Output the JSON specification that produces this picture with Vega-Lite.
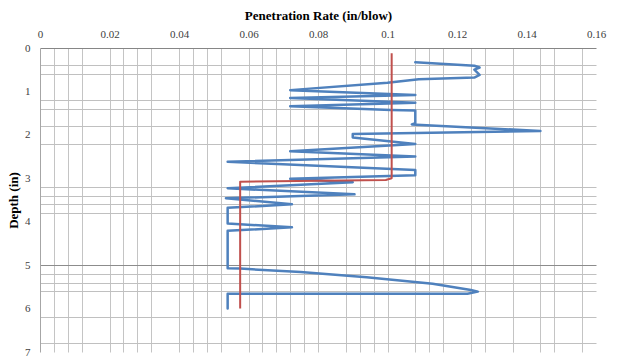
{
  "$schema": "https://vega.github.io/schema/vega-lite/v6.json",
  "width": 556,
  "height": 304,
  "autosize": {"type": "none"},
  "padding": {"left": 40, "top": 48, "right": 25, "bottom": 8},
  "background": "white",
  "config": {"view": {"stroke": null}, "font": "Liberation Serif"},
  "data": {
    "values": [
      {"series": "Measured", "order": 1, "rate": 0.108, "depth": 0.33},
      {"series": "Measured", "order": 2, "rate": 0.125, "depth": 0.41},
      {"series": "Measured", "order": 3, "rate": 0.1265, "depth": 0.45},
      {"series": "Measured", "order": 4, "rate": 0.125, "depth": 0.5},
      {"series": "Measured", "order": 5, "rate": 0.1265, "depth": 0.62},
      {"series": "Measured", "order": 6, "rate": 0.125, "depth": 0.68},
      {"series": "Measured", "order": 7, "rate": 0.109, "depth": 0.72},
      {"series": "Measured", "order": 8, "rate": 0.1, "depth": 0.8},
      {"series": "Measured", "order": 9, "rate": 0.072, "depth": 0.97},
      {"series": "Measured", "order": 10, "rate": 0.108, "depth": 1.08},
      {"series": "Measured", "order": 11, "rate": 0.072, "depth": 1.15},
      {"series": "Measured", "order": 12, "rate": 0.108, "depth": 1.26},
      {"series": "Measured", "order": 13, "rate": 0.072, "depth": 1.34},
      {"series": "Measured", "order": 14, "rate": 0.101, "depth": 1.43},
      {"series": "Measured", "order": 15, "rate": 0.108, "depth": 1.44},
      {"series": "Measured", "order": 16, "rate": 0.108, "depth": 1.73},
      {"series": "Measured", "order": 17, "rate": 0.107, "depth": 1.76},
      {"series": "Measured", "order": 18, "rate": 0.144, "depth": 1.91},
      {"series": "Measured", "order": 19, "rate": 0.09, "depth": 1.98},
      {"series": "Measured", "order": 20, "rate": 0.09, "depth": 2.06},
      {"series": "Measured", "order": 21, "rate": 0.108, "depth": 2.21},
      {"series": "Measured", "order": 22, "rate": 0.072, "depth": 2.38},
      {"series": "Measured", "order": 23, "rate": 0.108, "depth": 2.5},
      {"series": "Measured", "order": 24, "rate": 0.054, "depth": 2.62},
      {"series": "Measured", "order": 25, "rate": 0.108, "depth": 2.81},
      {"series": "Measured", "order": 26, "rate": 0.108, "depth": 2.93},
      {"series": "Measured", "order": 27, "rate": 0.072, "depth": 3.01},
      {"series": "Measured", "order": 28, "rate": 0.09, "depth": 3.09},
      {"series": "Measured", "order": 29, "rate": 0.054, "depth": 3.23},
      {"series": "Measured", "order": 30, "rate": 0.0905, "depth": 3.37},
      {"series": "Measured", "order": 31, "rate": 0.0535, "depth": 3.46},
      {"series": "Measured", "order": 32, "rate": 0.0725, "depth": 3.6},
      {"series": "Measured", "order": 33, "rate": 0.054, "depth": 3.68},
      {"series": "Measured", "order": 34, "rate": 0.054, "depth": 4.04},
      {"series": "Measured", "order": 35, "rate": 0.0725, "depth": 4.13},
      {"series": "Measured", "order": 36, "rate": 0.054, "depth": 4.21},
      {"series": "Measured", "order": 37, "rate": 0.054, "depth": 5.07},
      {"series": "Measured", "order": 38, "rate": 0.0576, "depth": 5.08},
      {"series": "Measured", "order": 39, "rate": 0.075, "depth": 5.16},
      {"series": "Measured", "order": 40, "rate": 0.094, "depth": 5.28},
      {"series": "Measured", "order": 41, "rate": 0.113, "depth": 5.43},
      {"series": "Measured", "order": 42, "rate": 0.124, "depth": 5.57},
      {"series": "Measured", "order": 43, "rate": 0.126, "depth": 5.61},
      {"series": "Measured", "order": 44, "rate": 0.123, "depth": 5.66},
      {"series": "Measured", "order": 45, "rate": 0.054, "depth": 5.66},
      {"series": "Measured", "order": 46, "rate": 0.054, "depth": 6.0},
      {"series": "Average", "order": 1, "rate": 0.1012, "depth": 0.12},
      {"series": "Average", "order": 2, "rate": 0.1012, "depth": 3.0},
      {"series": "Average", "order": 3, "rate": 0.0995, "depth": 3.04},
      {"series": "Average", "order": 4, "rate": 0.0576, "depth": 3.08},
      {"series": "Average", "order": 5, "rate": 0.0576, "depth": 6.0}
    ]
  },
  "encoding": {
    "x": {
      "field": "rate",
      "type": "quantitative",
      "scale": {"domain": [0, 0.16], "nice": false, "zero": false},
      "axis": {
        "orient": "top",
        "title": "Penetration Rate (in/blow)",
        "titleFont": "Liberation Serif",
        "titleFontSize": 13,
        "titleFontWeight": "bold",
        "titleColor": "#000000",
        "titlePadding": 6,
        "values": [0, 0.004, 0.008, 0.012, 0.016, 0.02, 0.024, 0.028, 0.032, 0.036, 0.04, 0.044, 0.048, 0.052, 0.056, 0.06, 0.064, 0.068, 0.072, 0.076, 0.08, 0.084, 0.088, 0.092, 0.096, 0.1, 0.104, 0.108, 0.112, 0.116, 0.12, 0.124, 0.128, 0.132, 0.136, 0.14, 0.144, 0.148, 0.152, 0.156, 0.16],
        "labelExpr": "round(datum.value*250) % 5 == 0 ? toString(round(datum.value*50)/50) : ''",
        "labelFont": "Liberation Serif",
        "labelFontSize": 11,
        "labelColor": "#404040",
        "labelPadding": 9,
        "labelOverlap": false,
        "labelFlush": false,
        "labelBound": false,
        "ticks": false,
        "domainColor": "#868686",
        "grid": true,
        "gridColor": "#c4c4c4",
        "gridOpacity": {"condition": {"test": "indexof([0,4,9,14,21,26,30,33,35,38,40], round(datum.value*250)) >= 0", "value": 0}, "value": 1}
      }
    },
    "y": {
      "field": "depth",
      "type": "quantitative",
      "scale": {"domain": [0, 7], "reverse": true, "nice": false, "zero": false},
      "axis": {
        "title": "Depth (in)",
        "titleFont": "Liberation Serif",
        "titleFontSize": 13,
        "titleFontWeight": "bold",
        "titleColor": "#000000",
        "titlePadding": 4,
        "values": [0, 0.2, 0.4, 0.6, 0.8, 1, 1.2, 1.4, 1.6, 1.8, 2, 2.2, 2.4, 2.6, 2.8, 3, 3.2, 3.4, 3.6, 3.8, 4, 4.2, 4.4, 4.6, 4.8, 5, 5.2, 5.4, 5.6, 5.8, 6, 6.2, 6.4, 6.6, 6.8, 7],
        "labelExpr": "round(datum.value*5) % 5 == 0 ? toString(round(datum.value)) : ''",
        "labelFont": "Liberation Serif",
        "labelFontSize": 11,
        "labelColor": "#404040",
        "labelPadding": 10,
        "labelOverlap": false,
        "labelFlush": false,
        "labelBound": false,
        "labelBaseline": "middle",
        "ticks": false,
        "domainColor": "#a6a6a6",
        "grid": true,
        "gridColor": {"condition": {"test": "round(datum.value*5) == 25", "value": "#8c8c8c"}, "value": "#c0c0c0"},
        "gridOpacity": {"condition": {"test": "indexof([2,3,6,7,9,11,16,17,18,19,25,26,27,28,31,34], round(datum.value*5)) >= 0", "value": 1}, "value": 0}
      }
    },
    "order": {"field": "order", "type": "quantitative"}
  },
  "layer": [
    {
      "transform": [{"filter": "datum.series == 'Measured'"}],
      "mark": {"type": "line", "color": "#4F81BD", "strokeWidth": 2.5, "strokeJoin": "round", "strokeCap": "round"}
    },
    {
      "transform": [{"filter": "datum.series == 'Average'"}],
      "mark": {"type": "line", "color": "#C0504D", "strokeWidth": 2, "strokeJoin": "round"}
    }
  ]
}
